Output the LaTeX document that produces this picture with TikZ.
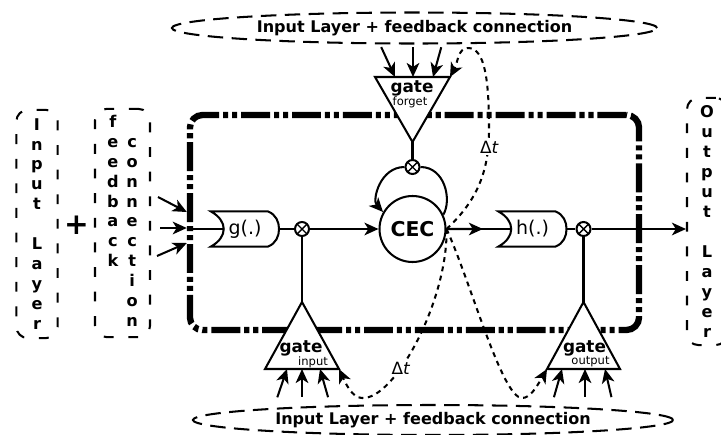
\documentclass[tikz,border=0pt]{standalone}
\usepackage{fontspec}
\setmainfont{DejaVu Sans}
\usetikzlibrary{positioning,calc,arrows.meta,shapes.geometric}

\begin{document}
\begin{tikzpicture}[x=0.025cm,y=-0.025cm,line width=1.45pt,
      >={Stealth[length=10pt,width=9pt,inset=2.8pt]},
      ell/.style={draw,ellipse,dash pattern=on 11pt off 6pt,inner sep=0pt,
        font=\bfseries\fontsize{11.4}{13}\selectfont},
      lay/.style={draw,rounded corners=8pt,dash pattern=on 7pt off 10.5pt,align=center,
        inner sep=0pt,font=\bfseries\fontsize{11.5}{14.2}\selectfont},
      cellbox/.style={draw,rounded corners=9pt,line width=4.5pt,
        dash pattern=on 20.6pt off 2.8pt on 3.6pt off 2.8pt on 3.6pt off 2.8pt},
      fn/.style={minimum width=1.65cm,minimum height=0.825cm,inner sep=0pt,font=\fontsize{13.5}{15}\selectfont},
      mul/.style={draw,circle,fill=white,minimum size=0.35cm,inner sep=0pt,
        path picture={\draw[line width=1pt] (path picture bounding box.north west) -- (path picture bounding box.south east)
          (path picture bounding box.south west) -- (path picture bounding box.north east);}},
      tri/.style={fill=white},
      gt/.style={inner sep=0pt,font=\bfseries\fontsize{12}{13}\selectfont},
      sub/.style={inner sep=0pt,font=\fontsize{8.2}{10}\selectfont},
      dly/.style={dash pattern=on 3.5pt off 3.2pt},
      dtl/.style={fill=white,inner sep=1pt,font=\fontsize{12}{13}\selectfont}]
    \useasboundingbox (0,0) rectangle (721,434);
    % memory cell
    \node[cellbox,minimum width=11.225cm,minimum height=5.375cm] (cell) at (414.5,222.5) {};
    % inputs and outputs
    \node[ell,minimum width=12.125cm,minimum height=0.775cm] (top) at (414.5,28) {Input Layer + feedback connection};
    \node[ell,minimum width=12cm,minimum height=0.75cm] (bot) at (433,420) {Input Layer + feedback connection};
    \node[lay,minimum width=1.03cm,minimum height=5.7cm] (inl) at (37,224) {I\\n\\p\\u\\t\\[14.2pt]L\\a\\y\\e\\r};
    \node[inner sep=0pt,font=\bfseries\fontsize{21}{24}\selectfont] (plus) at (76.5,225) {+};
    \node[lay,minimum width=1.375cm,minimum height=5.7cm] (fbk) at (122.5,223)
      {\begin{tabular}{@{}c@{\hspace{5.5pt}}c@{}}
        f&\\e&c\\e&o\\d&n\\b&n\\a&e\\c&c\\k&t\\&i\\&o\\&n
      \end{tabular}};
    \node[lay,minimum width=1cm,minimum height=6.175cm] (outl) at (707,221.5) {O\\u\\t\\p\\u\\t\\[14.2pt]L\\a\\y\\e\\r};
    % squashing functions
    \node[fn] (g) at (245,229) {g(.)};
    \node[fn] (h) at (532.5,229) {h(.)};
    \foreach \f in {g,h}
      \draw (\f.north west) -- ($(\f.north east)+(-11,0)$) .. controls ($(\f.north east)+(-3,3)$) and ($(\f.east)+(0,-7)$) .. (\f.east)
        .. controls ($(\f.east)+(0,7)$) and ($(\f.south east)+(-3,-3)$) .. ($(\f.south east)+(-11,0)$) -- (\f.south west)
        .. controls ($(\f.west)+(17,8)$) and ($(\f.west)+(17,-8)$) .. cycle;
    \node[mul] (mi) at (302,229) {};
    \node[mul] (mo) at (583.5,229) {};
    \node[mul] (mf) at (412.5,167) {};
    \node[draw,circle,fill=white,minimum size=1.65cm,inner sep=0pt,font=\bfseries\fontsize{14.5}{16}\selectfont] (cec) at (412.5,229) {CEC};
    % gates
    \draw[tri] (412.5,142) coordinate (fga) -- (375,77) coordinate (fgl) -- (450,77) coordinate (fgr) -- cycle;
    \draw[tri] (302,302) coordinate (iga) -- (265,369) coordinate (igl) -- (339,369) coordinate (igr) -- cycle;
    \draw[tri] (583.5,302) coordinate (oga) -- (547,369) coordinate (ogl) -- (620,369) coordinate (ogr) -- cycle;
    \node[gt] (fgt) at (412,88) {gate};
    \node[sub] (fgs) at (410,102) {forget};
    \node[gt] (igt) at (301,348) {gate};
    \node[sub] (igs) at (313,362) {input};
    \node[gt] (ogt) at (584.5,348) {gate};
    \node[sub] (ogs) at (590.5,362) {output};
    % signal path
    \draw (cell.west |- g.west) -- ($(g.west)+(12.5,0)$);
    \draw (g.east) -- (mi.west);
    \draw[->] (mi.east) -- (cec.west);
    \draw (cec.east) -- ($(h.west)+(12.5,0)$);
    \draw[->] (cec.east) -- ($(cec.east)!0.7!(h.west)$);
    \draw (h.east) -- (mo.west);
    \draw[->] (mo.east) -- (outl.west |- mo.east);
    \draw (fga) -- (mf.north);
    \draw (iga) -- (mi.south);
    \draw (oga) -- (mo.south);
    \draw (cec.25) .. controls (452,200) and (445,167) .. (mf.east);
    \draw[->] (mf.west) .. controls (380,167) and (372,200) .. (cec.150);
    % inputs into the cell
    \draw[->] (158,197) -- (cell.west |- 0,212);
    \draw[->] (160,228) -- (cell.west |- 0,228);
    \draw[->] (157,256) -- (cell.west |- 0,243);
    \draw[->,shorten <=2pt] (380,0 |- top.south) -- (395,0 |- fgl);
    \draw[->,shorten <=2pt] (413,0 |- top.south) -- (413,0 |- fgl);
    \draw[->,shorten <=2pt] (442,0 |- top.south) -- (433,0 |- fgl);
    \draw[->,shorten <=5pt] (275,0 |- bot.north) -- (287,0 |- igl);
    \draw[->,shorten <=5pt] (302,0 |- bot.north) -- (302,0 |- igl);
    \draw[->,shorten <=5pt] (330,0 |- bot.north) -- (320,0 |- igl);
    \draw[->,shorten <=5pt] (552,0 |- bot.north) -- (562,0 |- ogl);
    \draw[->,shorten <=5pt] (585,0 |- bot.north) -- (585,0 |- ogl);
    \draw[->,shorten <=5pt] (613,0 |- bot.north) -- (605,0 |- ogl);
    % peepholes
    \draw[dly,->] (cec.east) .. controls (478,200) and (489,170) .. (489,130) .. controls (489,80) and (485,48) .. (468,48)
      .. controls (458,48) and (458,62) .. (fgr);
    \draw[dly,->] (cec.east) .. controls (448,300) and (395,400) .. (362,398) .. controls (352,398) and (345,382) .. (igr);
    \draw[dly,->] (cec.east) .. controls (470,280) and (502,398) .. (522,398) .. controls (530,398) and (536,388) .. (ogl);
    \node[dtl] (dt1) at (489.5,147) {Δ\textit{t}};
    \node[dtl] (dt2) at (401,368) {Δ\textit{t}};
  \end{tikzpicture}
\end{document}
